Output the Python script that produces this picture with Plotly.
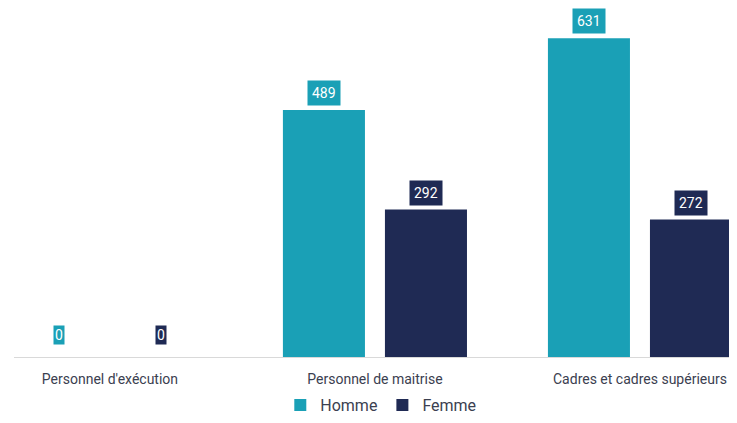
import plotly.graph_objects as go

categories = ["Personnel d'exécution", "Personnel de maitrise", "Cadres et cadres supérieurs"]
homme = [0, 489, 631]
femme = [0, 292, 272]
series_names = ["Homme", "Femme"]
colors = ["#1aa0b6", "#1f2a54"]

fig = go.Figure()
for name, vals, col in zip(series_names, [homme, femme], colors):
    fig.add_trace(go.Bar(x=categories, y=vals, name=name, marker_color=col,
                         marker_line_width=0))

offsets = [-0.1925, 0.1925]
for vals, col, off in zip([homme, femme], colors, offsets):
    for i, v in enumerate(vals):
        fig.add_annotation(
            x=i + off, y=v, xref="x", yref="y", text=str(v),
            showarrow=False, yanchor="bottom", yshift=4 if v > 0 else 12,
            bgcolor=col, borderpad=4 if v > 0 else 1,
            font=dict(family="Roboto", size=14, color="white"))

fig.update_layout(
    width=721, height=407,
    margin=dict(l=6, r=0, t=0, b=58, autoexpand=False),
    paper_bgcolor="white", plot_bgcolor="white",
    barmode="group", bargap=0.23, bargroupgap=0.196,
    font=dict(family="Roboto", size=14, color="#3b4050"),
    showlegend=True,
    legend=dict(orientation="h", x=0.513, xanchor="center", y=-0.1375, yanchor="middle",
                font=dict(size=16, color="#3b4050"), itemwidth=30,
                traceorder="normal"),
    xaxis=dict(range=[-0.362, 2.336], showgrid=False, showline=True,
               linecolor="#d9d9d9", linewidth=1, ticks="", ticklabelstandoff=9,
               tickfont=dict(size=14)),
    yaxis=dict(range=[0, 691], visible=False),
)

fig.write_html("out.html")
